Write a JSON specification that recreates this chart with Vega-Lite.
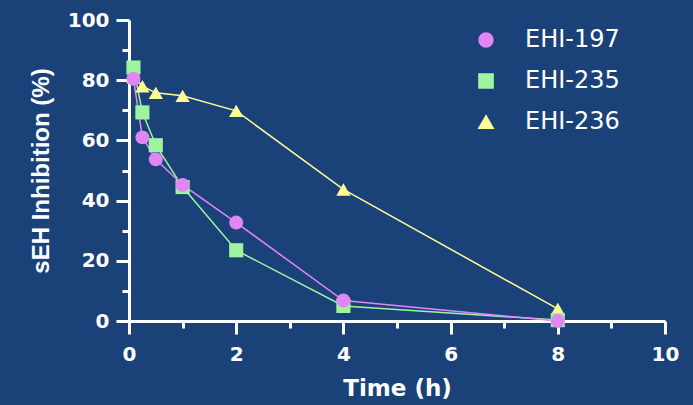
{
  "$schema": "https://vega.github.io/schema/vega-lite/v6.json",
  "autosize": "none",
  "width": 536,
  "height": 301,
  "padding": {"left": 129, "top": 20, "right": 28, "bottom": 84},
  "background": "#1b4179",
  "config": {
    "view": {"stroke": null},
    "axis": {
      "domainColor": "white", "domainWidth": 3, "tickColor": "white", "tickWidth": 3,
      "labelColor": "white", "titleColor": "white", "grid": false,
      "labelFont": "DejaVu Sans", "labelFontWeight": "bold", "labelFontSize": 20,
      "labelOverlap": false, "labelFlush": false
    }
  },
  "data": {"values": [
    {"series": "EHI-236", "time": 0.083, "inhibition": 81},
    {"series": "EHI-236", "time": 0.25, "inhibition": 78},
    {"series": "EHI-236", "time": 0.5, "inhibition": 75.8},
    {"series": "EHI-236", "time": 1, "inhibition": 74.8},
    {"series": "EHI-236", "time": 2, "inhibition": 69.8},
    {"series": "EHI-236", "time": 4, "inhibition": 43.7},
    {"series": "EHI-236", "time": 8, "inhibition": 4},
    {"series": "EHI-235", "time": 0.083, "inhibition": 84.2},
    {"series": "EHI-235", "time": 0.25, "inhibition": 69.3},
    {"series": "EHI-235", "time": 0.5, "inhibition": 58.4},
    {"series": "EHI-235", "time": 1, "inhibition": 44.5},
    {"series": "EHI-235", "time": 2, "inhibition": 23.5},
    {"series": "EHI-235", "time": 4, "inhibition": 5},
    {"series": "EHI-235", "time": 8, "inhibition": 0.3},
    {"series": "EHI-197", "time": 0.083, "inhibition": 80.5},
    {"series": "EHI-197", "time": 0.25, "inhibition": 61},
    {"series": "EHI-197", "time": 0.5, "inhibition": 53.7},
    {"series": "EHI-197", "time": 1, "inhibition": 45.2},
    {"series": "EHI-197", "time": 2, "inhibition": 32.7},
    {"series": "EHI-197", "time": 4, "inhibition": 6.8},
    {"series": "EHI-197", "time": 8, "inhibition": 0}
  ]},
  "encoding": {
    "x": {
      "field": "time", "type": "quantitative",
      "scale": {"domain": [0, 10], "nice": false, "zero": false},
      "axis": {
        "title": "Time (h)", "titleFont": "DejaVu Sans", "titleFontWeight": "bold", "titleFontSize": 23,
        "titleX": 268, "titleY": 74, "titleBaseline": "alphabetic", "titleAlign": "center",
        "values": [0, 1, 2, 3, 4, 5, 6, 7, 8, 9, 10],
        "labelExpr": "datum.value % 2 === 0 ? datum.label : ''",
        "tickSize": {"condition": {"test": "datum.value % 2 === 1", "value": 7}, "value": 13},
        "labelPadding": 10
      }
    },
    "y": {
      "field": "inhibition", "type": "quantitative",
      "scale": {"domain": [0, 100], "nice": false},
      "axis": {
        "title": "sEH Inhibition (%)", "titleFont": "Liberation Sans", "titleFontWeight": "bold", "titleFontSize": 24,
        "titleX": -76, "titleY": 150.5, "titleAngle": 270, "titleBaseline": "bottom", "titleAlign": "center",
        "values": [0, 10, 20, 30, 40, 50, 60, 70, 80, 90, 100],
        "labelExpr": "datum.value % 20 === 0 ? datum.label : ''",
        "tickSize": {"condition": {"test": "datum.value % 20 === 10", "value": 7}, "value": 13},
        "labelPadding": 7
      }
    },
    "color": {
      "field": "series", "type": "nominal",
      "scale": {"domain": ["EHI-197", "EHI-235", "EHI-236"], "range": ["#e186f5", "#9ff59f", "#fdfd96"]},
      "legend": {
        "title": null, "orient": "none", "legendX": 345, "legendY": 8, "padding": 0,
        "labelFont": "DejaVu Sans", "labelFontSize": 24, "labelColor": "white",
        "rowPadding": 17, "symbolSize": 196, "labelOffset": 27,
        "symbolStrokeWidth": 1.5, "symbolOpacity": 1
      }
    }
  },
  "layer": [
    {"mark": {"type": "line", "strokeWidth": 1.5}},
    {
      "mark": {"type": "point", "filled": true, "opacity": 1},
      "encoding": {
        "shape": {"field": "series", "type": "nominal",
          "scale": {"domain": ["EHI-197", "EHI-235", "EHI-236"], "range": ["circle", "square", "triangle-up"]},
          "legend": null},
        "size": {"field": "series", "type": "nominal",
          "scale": {"domain": ["EHI-197", "EHI-235", "EHI-236"], "range": [195, 205, 235]},
          "legend": null}
      }
    }
  ]
}
